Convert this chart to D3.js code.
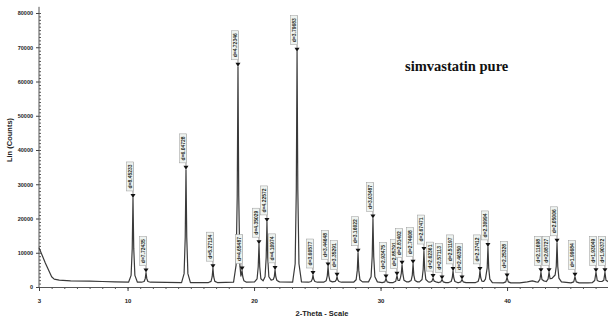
<!DOCTYPE html>
<html>
<head>
<meta charset="utf-8">
<script src="https://cdn.jsdelivr.net/npm/d3@7"></script>
<style>
  body { margin: 0; background: #fff; }
</style>
</head>
<body>
<div id="chart"></div>
<script>

// picked peaks: 2-theta position, top of peak (counts), d-spacing label
var peakTheta = [10.43, 11.46, 14.62, 16.75, 18.73, 19.05, 20.39, 21.02, 21.66, 23.40,
  24.66, 25.85, 26.56, 28.22, 29.40, 30.43, 31.30, 31.70, 32.57, 33.43,
  34.15, 34.86, 35.73, 36.44, 37.86, 38.49, 40.00, 42.68, 43.32, 43.95,
  45.37, 47.03, 47.74];
var peakCounts = [26000, 4200, 34200, 5500, 64300, 4800, 12500, 19000, 5000, 68700,
  3500, 6000, 3000, 10000, 20000, 2500, 3300, 6500, 6800, 10500,
  2600, 2200, 4700, 2200, 4700, 11700, 2800, 4300, 4300, 12900,
  3000, 4300, 4300];
var peakLabels = ["d=8.45233", "d=7.72435", "d=6.04728", "d=5.27134", "d=4.72346", "d=4.65487",
  "d=4.35029", "d=4.22572", "d=4.10974", "d=3.79683", "d=3.60577", "d=3.44648",
  "d=3.35291", "d=3.16022", "d=3.03487", "d=2.93475", "d=2.85791", "d=2.81402",
  "d=2.74608", "d=2.67471", "d=2.62361", "d=2.57113", "d=2.51197", "d=2.46350",
  "d=2.37412", "d=2.30994", "d=2.25328", "d=2.11698", "d=2.08727", "d=2.05006",
  "d=1.99684", "d=1.93049", "d=1.90372"];

// scan trace
var traceTheta = [3.0, 3.5, 4.0, 4.2, 4.6, 5.5, 7.0, 8.0, 9.0, 10.08,
  10.28, 10.37, 10.43, 10.49, 10.58, 10.78, 11.11, 11.31, 11.40, 11.46, 11.52, 11.61, 11.81,
  14.27, 14.47, 14.56, 14.62, 14.68, 14.77, 14.97,
  16.40, 16.60, 16.69, 16.75, 16.81, 16.90, 17.10,
  18.38, 18.58, 18.67, 18.73, 18.79, 18.88, 18.96, 19.05, 19.11, 19.20, 19.40,
  20.04, 20.24, 20.33, 20.39, 20.45, 20.54, 20.72, 20.87, 20.96, 21.02, 21.08, 21.17,
  21.35, 21.52, 21.60, 21.66, 21.72, 21.81, 22.01,
  23.05, 23.25, 23.34, 23.40, 23.46, 23.55, 23.75,
  24.31, 24.51, 24.60, 24.66, 24.72, 24.81, 25.01,
  25.50, 25.70, 25.79, 25.85, 25.91, 26.00, 26.20, 26.41, 26.50, 26.56, 26.62, 26.71, 26.91,
  27.87, 28.07, 28.16, 28.22, 28.28, 28.37, 28.57,
  29.05, 29.25, 29.34, 29.40, 29.46, 29.55, 29.75,
  30.13, 30.34, 30.43, 30.52, 30.73,
  31.00, 31.20, 31.30, 31.38, 31.50, 31.58, 31.64, 31.70, 31.76, 31.85, 32.05,
  32.22, 32.42, 32.51, 32.57, 32.63, 32.72, 32.92,
  33.08, 33.28, 33.37, 33.43, 33.49, 33.58, 33.78,
  33.90, 34.06, 34.15, 34.24, 34.45,
  34.60, 34.77, 34.86, 34.95, 35.15,
  35.38, 35.58, 35.67, 35.73, 35.79, 35.88, 36.08,
  36.20, 36.35, 36.44, 36.53, 36.75, 37.20,
  37.51, 37.71, 37.80, 37.86, 37.92, 38.01, 38.15,
  38.29, 38.43, 38.49, 38.55, 38.64, 38.84,
  39.70, 39.90, 40.00, 40.10, 40.30,
  41.00, 41.60, 42.00, 42.30,
  42.45, 42.60, 42.68, 42.76, 42.90,
  43.10, 43.24, 43.32, 43.40, 43.55,
  43.80, 43.89, 43.95, 44.01, 44.10, 44.30,
  45.05, 45.27, 45.37, 45.47, 45.70, 46.40,
  46.75, 46.93, 47.03, 47.13, 47.30,
  47.50, 47.65, 47.74, 47.82, 48.05, 49.00, 50.00];
var traceCounts = [11500, 7000, 3000, 2300, 2000, 1800, 1700, 1600, 1500, 1400,
  3400, 11200, 26000, 11200, 3400, 1400, 1400, 1600, 2500, 4200, 2500, 1600, 1400,
  1300, 3900, 14500, 34200, 14500, 3900, 1300,
  1300, 1650, 3000, 5500, 3000, 1650, 1300,
  1400, 6400, 26600, 64300, 26600, 6400, 3200, 4800, 3000, 1800, 1400,
  1500, 2400, 5900, 12500, 5900, 2400, 1800, 3000, 8600, 19000, 8600, 3000,
  2000, 2200, 3000, 5000, 3000, 1900, 1500,
  1400, 6800, 28300, 68700, 28300, 6800, 1500,
  1400, 1600, 2250, 3500, 2250, 1600, 1400,
  1400, 1800, 3250, 6000, 3250, 1800, 1500, 1650, 2100, 3000, 2100, 1600, 1400,
  1400, 2100, 4850, 10000, 4850, 2100, 1500,
  1500, 3000, 8900, 20000, 8900, 3000, 1500,
  1300, 1500, 2500, 1500, 1300,
  1300, 1700, 3300, 1900, 1900, 2800, 4000, 6500, 4000, 2000, 1500,
  1500, 1900, 3500, 6800, 3500, 1900, 1500,
  1500, 2200, 5100, 10500, 5100, 2200, 1500,
  1400, 1700, 2600, 1700, 1400,
  1300, 1500, 2200, 1500, 1300,
  1300, 1600, 2700, 4700, 2700, 1600, 1300,
  1300, 1500, 2200, 1500, 1300, 1300,
  1300, 1600, 2700, 4700, 2700, 1700, 1600,
  2300, 5600, 11700, 5600, 2300, 1300,
  1200, 1500, 2800, 1500, 1200,
  1200, 1500, 1800, 1500,
  1400, 2200, 4300, 2200, 1800,
  1600, 2300, 4300, 2400, 2500,
  3500, 6000, 12900, 6000, 2600, 1500,
  1200, 1500, 3000, 1500, 1200, 1200,
  1300, 1900, 4300, 1900, 1600,
  1600, 2000, 4300, 2000, 1400, 1200, 1200];

var xTickLabels = [3, 10, 20, 30, 40];
var yTickLabels = [0, 10000, 20000, 30000, 40000, 50000, 60000, 70000, 80000];

var width = 608, height = 322;

var svg = d3.select("#chart").append("svg")
  .attr("width", width)
  .attr("height", height)
  .style("font-family", "'Liberation Sans', Arial, sans-serif");

var x = d3.scaleLinear().domain([3, 50]).range([39, 39 + 47 * 12.65]);
var y = d3.scaleLinear().domain([0, 80000]).range([287, 13]);

// y axis
var yAxisG = svg.append("g").attr("transform", "translate(39,0)");
yAxisG.append("line")
  .attr("y1", y(0)).attr("y2", y(81800))
  .attr("stroke", "#444").attr("stroke-width", 1);
yAxisG.call(d3.axisRight(y).tickValues(d3.range(0, 81000, 1000)).tickSize(2).tickFormat(""))
  .call(function(g) { g.select(".domain").remove(); g.selectAll("line").attr("stroke", "#555"); });
var yMajor = svg.append("g").attr("transform", "translate(39,0)")
  .call(d3.axisLeft(y).tickValues(yTickLabels).tickSize(3).tickPadding(3).tickFormat(function(d) { return d; }));
yMajor.select(".domain").remove();
yMajor.selectAll("line").attr("stroke", "#444");
yMajor.selectAll("text")
  .style("font-size", "5.5px").style("font-weight", "bold").attr("fill", "#222");

// x axis
var xAxisG = svg.append("g").attr("transform", "translate(0,287)");
xAxisG.call(d3.axisBottom(x).tickValues(d3.range(3, 51, 1)).tickSize(2).tickFormat(""))
  .call(function(g) {
    g.select(".domain").attr("stroke", "#555");
    g.selectAll("line").attr("stroke", "#555");
  });
var xMajor = svg.append("g").attr("transform", "translate(0,287)")
  .call(d3.axisBottom(x).tickValues(xTickLabels).tickSize(4).tickPadding(8).tickFormat(function(d) { return d; }));
xMajor.select(".domain").remove();
xMajor.selectAll("line").attr("stroke", "#444");
xMajor.selectAll("text")
  .style("font-size", "6px").style("font-weight", "bold").attr("fill", "#222");

// axis titles
svg.append("text")
  .attr("x", 322).attr("y", 316)
  .attr("text-anchor", "middle")
  .style("font-size", "7.5px").style("font-weight", "bold").attr("fill", "#222")
  .text("2-Theta - Scale");

svg.append("text")
  .attr("transform", "translate(12,140) rotate(-90)")
  .attr("text-anchor", "middle")
  .style("font-size", "7.5px").style("font-weight", "bold").attr("fill", "#222")
  .text("Lin (Counts)");

// title
svg.append("text")
  .attr("x", 405).attr("y", 71)
  .style("font-family", "'Liberation Serif', 'Times New Roman', serif")
  .style("font-size", "14.5px").style("font-weight", "bold").attr("fill", "#111")
  .text("simvastatin pure");

// pattern
var trace = traceTheta.map(function(t, i) { return [t, traceCounts[i]]; });
var line = d3.line()
  .x(function(d) { return x(d[0]); })
  .y(function(d) { return y(d[1]); });

svg.append("path")
  .datum(trace)
  .attr("fill", "none")
  .attr("stroke", "#3a3a3a")
  .attr("stroke-width", 1.2)
  .attr("stroke-linejoin", "round")
  .attr("d", line);

// peak markers and labels
var peaks = peakTheta.map(function(t, i) {
  return { t: t, c: peakCounts[i], label: peakLabels[i] };
});

var pk = svg.selectAll(".peak").data(peaks).enter().append("g")
  .attr("class", "peak")
  .attr("transform", function(d) { return "translate(" + x(d.t) + "," + y(d.c) + ")"; });

pk.append("line")
  .attr("x1", 0).attr("x2", 0)
  .attr("y1", -3).attr("y2", -36)
  .attr("stroke", "#777").attr("stroke-width", 0.8);

pk.append("rect")
  .attr("x", -6.5).attr("y", -36)
  .attr("width", 7).attr("height", 29)
  .attr("fill", "#eef3f0")
  .attr("stroke", "#999").attr("stroke-width", 0.5);

pk.append("text")
  .attr("transform", "translate(-1.4,-21.5) rotate(-90)")
  .attr("text-anchor", "middle")
  .style("font-size", "5px").style("font-weight", "bold").attr("fill", "#1f2a22")
  .text(function(d) { return d.label; });

pk.append("path")
  .attr("d", "M-2.5,-4L2.5,-4L0,0Z")
  .attr("fill", "#111");

</script>
</body>
</html>
